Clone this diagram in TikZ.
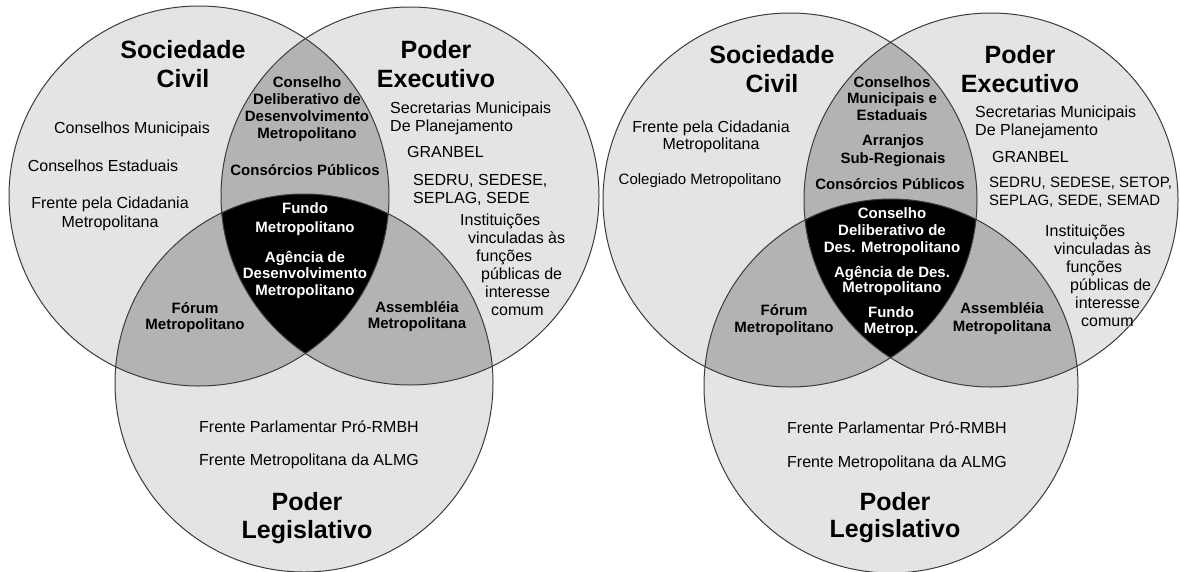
\documentclass[tikz,border=0pt]{standalone}
\usepackage{fontspec}
\setmainfont{Liberation Sans}
\definecolor{lightgr}{HTML}{E4E4E4}
\definecolor{midgr}{HTML}{B3B3B3}
\definecolor{edgegr}{HTML}{3C3C3C}
\newcommand{\mlc}[1]{\begin{tabular}[t]{@{}c@{}}#1\end{tabular}}
\newcommand{\mll}[1]{\begin{tabular}[t]{@{}l@{}}#1\end{tabular}}
\tikzset{
  titletxt/.style={font=\bfseries\fontsize{25}{29}\selectfont, anchor=base, inner sep=0pt},
  innertxt/.style={font=\bfseries\fontsize{15}{16.5}\selectfont, anchor=base, inner sep=0pt},
  blacktxt/.style={innertxt, text=white},
  plaintxt/.style={font=\fontsize{16}{18}\selectfont, anchor=base, inner sep=0pt},
  listtxt/.style={plaintxt, anchor=base west},
  outline/.style={draw=edgegr, line width=1pt},
}
\begin{document}
\begin{tikzpicture}[x=1pt,y=-1pt]
\useasboundingbox (0,0) rectangle (1180,571);
\fill[white] (0,0) rectangle (1180,571);

% ---------- left diagram ----------
\coordinate (LA) at (199,196);
\coordinate (LB) at (410,196);
\coordinate (LC) at (304,383);
\fill[lightgr] (LA) circle (190pt);
\fill[lightgr] (LB) circle (189pt);
\fill[lightgr] (LC) circle (189pt);
\begin{scope}\clip (LA) circle (190pt); \fill[midgr] (LB) circle (189pt); \fill[midgr] (LC) circle (189pt);\end{scope}
\begin{scope}\clip (LB) circle (189pt); \fill[midgr] (LC) circle (189pt);\end{scope}
\begin{scope}\clip (LA) circle (190pt); \clip (LB) circle (189pt); \fill[black] (LC) circle (189pt);\end{scope}
\draw[outline] (LA) circle (190pt);
\draw[outline] (LB) circle (189pt);
\draw[outline] (LC) circle (189pt);

% ---------- right diagram ----------
\coordinate (RA) at (790,200);
\coordinate (RB) at (991,200);
\coordinate (RC) at (891,386);
\fill[lightgr] (RA) circle (187pt);
\fill[lightgr] (RB) circle (187pt);
\fill[lightgr] (RC) circle (187pt);
\begin{scope}\clip (RA) circle (187pt); \fill[midgr] (RB) circle (187pt); \fill[midgr] (RC) circle (187pt);\end{scope}
\begin{scope}\clip (RB) circle (187pt); \fill[midgr] (RC) circle (187pt);\end{scope}
\begin{scope}\clip (RA) circle (187pt); \clip (RB) circle (187pt); \fill[black] (RC) circle (187pt);\end{scope}
\draw[outline] (RA) circle (187pt);
\draw[outline] (RB) circle (187pt);
\draw[outline] (RC) circle (187pt);

% ---------- left texts ----------
\node[titletxt] (lsoc) at (183,58) {\mlc{Sociedade\\Civil}};
\node[titletxt] (lexe) at (436,58) {\mlc{Poder\\Executivo}};
\node[titletxt, font=\bfseries\fontsize{25}{28}\selectfont] (lleg) at (307,510) {\mlc{Poder\\Legislativo}};

\node[plaintxt] (lcm) at (132,133) {Conselhos Municipais};
\node[plaintxt] (lce) at (103,171) {Conselhos Estaduais};
\node[plaintxt, font=\fontsize{16}{19}\selectfont] (lfc) at (110,208) {\mlc{Frente pela Cidadania\\Metropolitana}};

\node[innertxt, font=\bfseries\fontsize{15}{17}\selectfont] (lcdd) at (307,87) {\mlc{Conselho\\Deliberativo de\\Desenvolvimento\\Metropolitano}};
\node[innertxt] (lcp) at (305,175) {Consórcios Públicos};
\node[blacktxt, font=\bfseries\fontsize{15}{19}\selectfont] (lfm) at (305,213) {\mlc{Fundo\\Metropolitano}};
\node[blacktxt] (lad) at (305,262) {\mlc{Agência de\\Desenvolvimento\\Metropolitano}};
\node[innertxt, font=\bfseries\fontsize{15}{16}\selectfont] (lfor) at (195,313) {\mlc{Fórum\\Metropolitano}};
\node[innertxt, font=\bfseries\fontsize{15}{16}\selectfont] (lass) at (417,312) {\mlc{Assembléia\\Metropolitana}};

\node[listtxt] (lsec) at (390,113) {\mll{Secretarias Municipais\\De Planejamento}};
\node[listtxt] (lgra) at (407,157) {GRANBEL};
\node[listtxt] (lsed) at (413,185) {\mll{SEDRU, SEDESE,\\SEPLAG, SEDE}};
\node[listtxt] (lins) at (460,225) {\mll{Instituições\\\hspace*{8pt}vinculadas às\\\hspace*{16pt}funções\\\hspace*{21pt}públicas de\\\hspace*{25pt}interesse\\\hspace*{31pt}comum}};

\node[listtxt] (lfp) at (199,432) {Frente Parlamentar Pró-RMBH};
\node[listtxt] (lfa) at (199,465) {Frente Metropolitana da ALMG};

% ---------- right texts ----------
\node[titletxt] (rsoc) at (772,63) {\mlc{Sociedade\\Civil}};
\node[titletxt] (rexe) at (1020,63) {\mlc{Poder\\Executivo}};
\node[titletxt, font=\bfseries\fontsize{25}{27}\selectfont] (rleg) at (895,510) {\mlc{Poder\\Legislativo}};

\node[plaintxt, font=\fontsize{16}{17}\selectfont] (rfc) at (711,132) {\mlc{Frente pela Cidadania\\Metropolitana}};
\node[plaintxt, font=\fontsize{15}{17}\selectfont] (rcol) at (700,184) {Colegiado Metropolitano};

\node[innertxt] (rcme) at (892,87) {\mlc{Conselhos\\Municipais e\\Estaduais}};
\node[innertxt, font=\bfseries\fontsize{15}{18}\selectfont] (rarr) at (893,145) {\mlc{Arranjos\\Sub-Regionais}};
\node[innertxt] (rcp) at (890,189) {Consórcios Públicos};
\node[blacktxt, font=\bfseries\fontsize{15}{17}\selectfont] (rcdd) at (892,218) {\mlc{Conselho\\Deliberativo de\\Des. Metropolitano}};
\node[blacktxt, font=\bfseries\fontsize{15}{15.5}\selectfont] (rad) at (892,277) {\mlc{Agência de Des.\\Metropolitano}};
\node[blacktxt, font=\bfseries\fontsize{15}{16}\selectfont] (rfm) at (891,317) {\mlc{Fundo\\Metrop.}};
\node[innertxt, font=\bfseries\fontsize{15}{17}\selectfont] (rfor) at (784,315) {\mlc{Fórum\\Metropolitano}};
\node[innertxt, font=\bfseries\fontsize{15}{18}\selectfont] (rass) at (1002,313) {\mlc{Assembléia\\Metropolitana}};

\node[listtxt] (rsec) at (975,117) {\mll{Secretarias Municipais\\De Planejamento}};
\node[listtxt] (rgra) at (992,162) {GRANBEL};
\node[listtxt, font=\fontsize{15}{18}\selectfont] (rsed) at (989,187) {\mll{SEDRU, SEDESE, SETOP,\\SEPLAG, SEDE, SEMAD}};
\node[listtxt] (rins) at (1045,236) {\mll{Instituições\\\hspace*{9pt}vinculadas às\\\hspace*{21pt}funções\\\hspace*{25pt}públicas de\\\hspace*{30pt}interesse\\\hspace*{36pt}comum}};

\node[listtxt] (rfp) at (787,433) {Frente Parlamentar Pró-RMBH};
\node[listtxt] (rfa) at (787,467) {Frente Metropolitana da ALMG};
\end{tikzpicture}
\end{document}
